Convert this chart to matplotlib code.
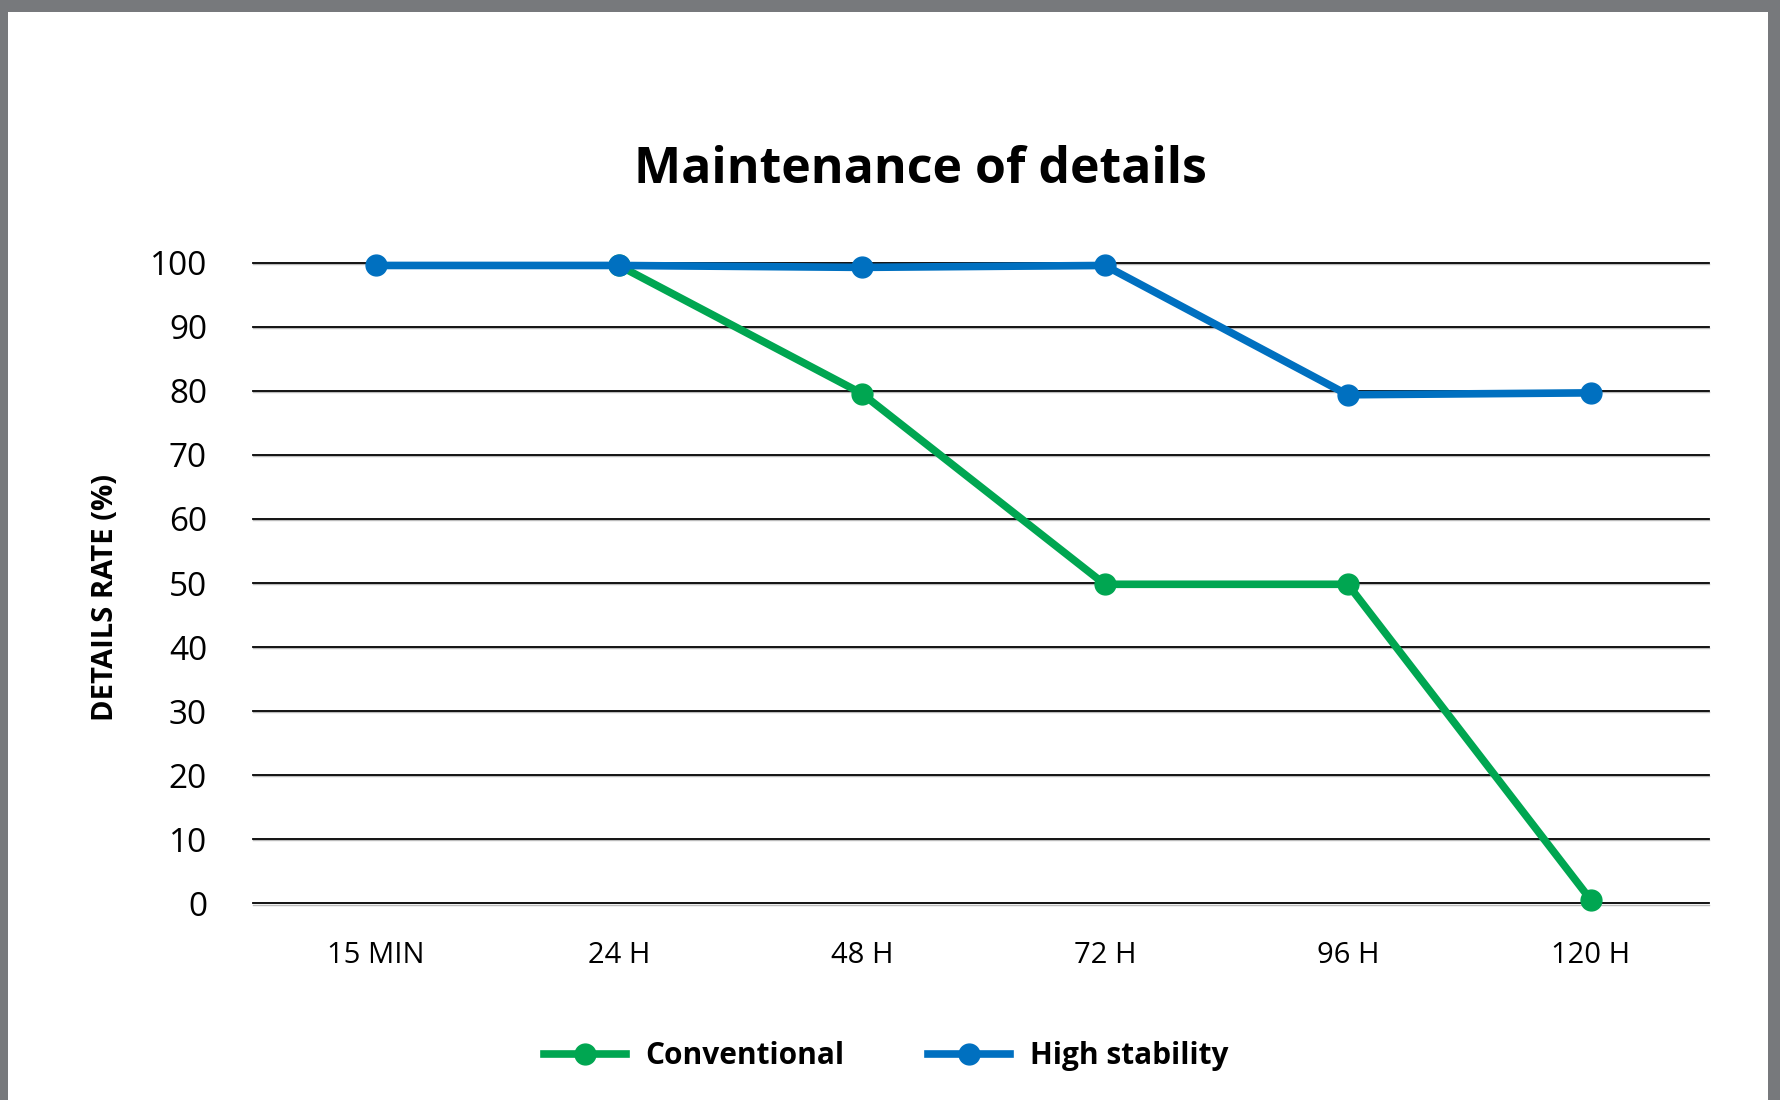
import matplotlib
matplotlib.use('Agg')
from matplotlib import pyplot as plt
from matplotlib.patches import Rectangle

plt.rcParams['font.family'] = ['Open Sans', 'DejaVu Sans']

# chart data
times = ['15 MIN', '24 H', '48 H', '72 H', '96 H', '120 H']
high_stability = [99.6, 99.6, 99.3, 99.6, 79.4, 79.7]
conv_times = ['24 H', '48 H', '72 H', '96 H', '120 H']
conventional = [99.6, 79.6, 49.8, 49.8, 0.5]
yticks = [0, 10, 20, 30, 40, 50, 60, 70, 80, 90, 100]

GREEN = '#00A651'
BLUE = '#0070C0'

fig = plt.figure(figsize=(17.81, 11), dpi=100, facecolor='#77797C')
# white page inside the grey frame
fig.patches.append(Rectangle((0.0045, 0.0), 0.988, 0.989, transform=fig.transFigure,
                             facecolor='white', edgecolor='none', zorder=-10))

ax = fig.add_axes([0.142, 0.179, 0.8175, 0.582], zorder=2)
ax.set_facecolor('none')

xi = list(range(len(times)))
cx = [times.index(t) for t in conv_times]

ax.plot(cx, conventional, color=GREEN, lw=5.5, marker='o', ms=15,
        solid_joinstyle='round', clip_on=False, zorder=3, label='Conventional')
ax.plot(xi, high_stability, color=BLUE, lw=5.5, marker='o', ms=15,
        solid_joinstyle='round', clip_on=False, zorder=4, label='High stability')

ax.set_xlim(-0.506, 5.486)
ax.set_ylim(0, 100)
ax.set_yticks(yticks)
ax.set_xticks(xi)
ax.set_xticklabels(times)
for y in yticks:
    # thin grey shadow under each black grid line
    ax.axhline(y - 0.22, color='#BBBBBB', lw=1.0, zorder=1, clip_on=False)
    ax.axhline(y, color='black', lw=1.3, zorder=1.5, clip_on=False)

for s in ax.spines.values():
    s.set_visible(False)
ax.tick_params(axis='y', length=0, pad=33, labelsize=24)
ax.tick_params(axis='x', length=0, pad=27, labelsize=21)

fig.text(0.5166, 0.834, 'Maintenance of details', ha='center', va='baseline',
         fontsize=36, fontweight='bold')
fig.text(0.059, 0.457, 'DETAILS RATE (%)', rotation=90, ha='center', va='center',
         fontsize=21, fontweight='bold')

fig.legend(loc='center', bbox_to_anchor=(0.4975, 0.040), ncol=2, frameon=False,
           prop={'weight': 'bold', 'size': 21.5}, handlelength=2.75,
           handletextpad=0.65, columnspacing=2.8)

fig.savefig('out.png', dpi=100, facecolor=fig.get_facecolor())
